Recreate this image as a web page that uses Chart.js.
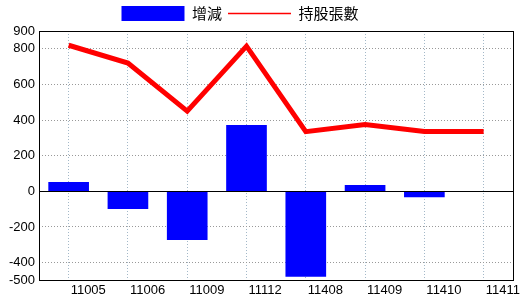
<!DOCTYPE html>
<html>
<head>
<meta charset="utf-8">
<script src="https://cdn.jsdelivr.net/npm/chart.js@4/dist/chart.umd.min.js"></script>
<style>
  html, body { margin: 0; padding: 0; background: #fff; }
</style>
</head>
<body>
<canvas id="chart1" width="520" height="300"></canvas>
<script>
var months = ["11005", "11006", "11009", "11112", "11408", "11409", "11410", "11411"];
var change = [50, -98, -272, 370, -478, 34, -32, null];
var holders = [820, 720, 450, 815, 335, 375, 336, 336];
var yTicks = [-500, -400, -200, 0, 200, 400, 600, 800, 900];

var numFont = { family: "'Liberation Sans Narrow', 'Liberation Sans', Arial, sans-serif", size: 13 };

// frame around the plot area + solid zero line, and nudge the legend left
var framePlugin = {
  id: "frame",
  afterLayout: function (chart) {
    chart.legend.left -= 19;
    chart.legend.right -= 19;
  },
  afterDatasetsDraw: function (chart) {
    var a = chart.chartArea, c = chart.ctx;
    var y0 = Math.round(chart.scales.y.getPixelForValue(0)) + 0.5;
    c.save();
    c.strokeStyle = "#000";
    c.lineWidth = 1;
    c.beginPath();
    c.moveTo(a.left, y0);
    c.lineTo(a.right, y0);
    c.stroke();
    c.strokeRect(Math.round(a.left) + 0.5, Math.round(a.top) + 0.5,
      Math.round(a.right - a.left), Math.round(a.bottom - a.top));
    c.restore();
  }
};

new Chart(document.getElementById("chart1"), {
  type: "bar",
  data: {
    labels: months,
    datasets: [
      {
        label: "增減",
        data: change,
        backgroundColor: "#0000ff",
        borderWidth: 0,
        barThickness: 40,
        order: 2
      },
      {
        type: "line",
        label: "持股張數",
        data: holders,
        borderColor: "#ff0000",
        borderWidth: 5,
        pointRadius: 0,
        tension: 0,
        fill: false,
        order: 1
      }
    ]
  },
  options: {
    responsive: false,
    animation: false,
    layout: { padding: { left: 0, right: 2, top: 0, bottom: 0 } },
    plugins: {
      tooltip: { enabled: false },
      legend: {
        position: "top",
        labels: {
          usePointStyle: true,
          pointStyleWidth: 63,
          boxHeight: 16,
          padding: 6,
          color: "#000",
          font: { family: "'Noto Sans CJK TC', sans-serif", size: 15 },
          generateLabels: function (chart) {
            return [
              { text: "增減", fontColor: "#000", fillStyle: "#0000ff", strokeStyle: "#0000ff", lineWidth: 0, pointStyle: "rect", datasetIndex: 0 },
              { text: "持股張數", fontColor: "#000", fillStyle: "rgb(255,0,0)", strokeStyle: "rgb(255,0,0)", lineWidth: 1.5, pointStyle: "line", datasetIndex: 1 }
            ];
          }
        }
      }
    },
    scales: {
      x: {
        offset: true,
        grid: {
          offset: false,
          drawTicks: false,
          color: "#a3b8c8"
        },
        border: { display: false, dash: [1, 2] },
        ticks: {
          align: "start",
          labelOffset: 2,
          padding: 2,
          maxRotation: 0,
          autoSkip: false,
          color: "#000",
          font: numFont
        }
      },
      y: {
        min: -500,
        max: 900,
        afterBuildTicks: function (scale) {
          scale.ticks = yTicks.map(function (v) { return { value: v }; });
        },
        afterFit: function (scale) { scale.width = 39; },
        grid: {
          drawTicks: false,
          color: function (ctx) {
            var v = ctx.tick && ctx.tick.value;
            if (v === 0 || v === -500 || v === 900) return "rgba(0,0,0,0)";
            return "#999999";
          }
        },
        border: { display: false, dash: [1, 2] },
        ticks: {
          padding: 4,
          color: "#000",
          font: numFont
        }
      }
    }
  },
  plugins: [framePlugin]
});
</script>
</body>
</html>
